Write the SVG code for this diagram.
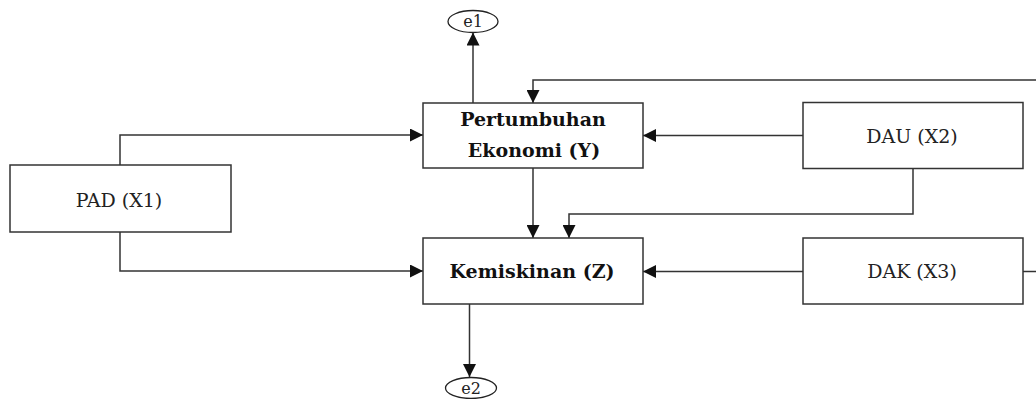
<svg xmlns="http://www.w3.org/2000/svg" width="1036" height="399" viewBox="0 0 1036 399">
<style>
.box{fill:#fff;stroke:#333;stroke-width:1.5}
.ell{fill:#fff;stroke:#222;stroke-width:1.3}
.t{font-family:"DejaVu Serif","Liberation Serif",serif;font-size:19px;fill:#222;text-anchor:middle}
.b{font-weight:bold;fill:#111}
.e{font-family:"DejaVu Serif","Liberation Serif",serif;font-size:16px;fill:#222;text-anchor:middle}
.c{fill:none;stroke:#333;stroke-width:1.5}
</style>
<defs>
<marker id="ah" viewBox="0 0 13 13" refX="13" refY="6.5" markerWidth="13" markerHeight="13" markerUnits="userSpaceOnUse" orient="auto">
<path d="M0,0 L13,6.5 L0,13 Z" fill="#111"/>
</marker>
</defs>
<g id="connectors">
<path class="c" d="M473,103 V32.5" marker-end="url(#ah)"/>
<path class="c" d="M1036,80 H533 V103" marker-end="url(#ah)"/>
<path class="c" d="M120,165 V135 H423" marker-end="url(#ah)"/>
<path class="c" d="M120,232 V271 H423" marker-end="url(#ah)"/>
<path class="c" d="M803,135.5 H643" marker-end="url(#ah)"/>
<path class="c" d="M803,271.5 H643" marker-end="url(#ah)"/>
<path class="c" d="M1023,271.5 H1036"/>
<path class="c" d="M533,168 V238" marker-end="url(#ah)"/>
<path class="c" d="M913,169 V214 H569 V238" marker-end="url(#ah)"/>
<path class="c" d="M469.5,304 V377" marker-end="url(#ah)"/>
</g>
<g id="e1">
<ellipse class="ell" cx="473" cy="21.5" rx="25" ry="11"/>
<text class="e" x="473" y="27">e1</text>
</g>
<g id="Y">
<rect class="box" x="423" y="103" width="220" height="65"/>
<text class="t b" x="533" y="126">Pertumbuhan</text>
<text class="t b" x="534" y="157">Ekonomi (Y)</text>
</g>
<g id="DAU">
<rect class="box" x="803" y="102.5" width="220" height="66"/>
<text class="t" x="912" y="142.5">DAU (X2)</text>
</g>
<g id="PAD">
<rect class="box" x="10" y="165" width="221" height="67"/>
<text class="t" x="119" y="207">PAD (X1)</text>
</g>
<g id="Z">
<rect class="box" x="423" y="238" width="220" height="66"/>
<text class="t b" x="532" y="278">Kemiskinan (Z)</text>
</g>
<g id="DAK">
<rect class="box" x="803" y="238" width="220" height="66"/>
<text class="t" x="912" y="278">DAK (X3)</text>
</g>
<g id="e2">
<ellipse class="ell" cx="471" cy="388" rx="25.5" ry="10.5"/>
<text class="e" x="471" y="393.5">e2</text>
</g>
</svg>
